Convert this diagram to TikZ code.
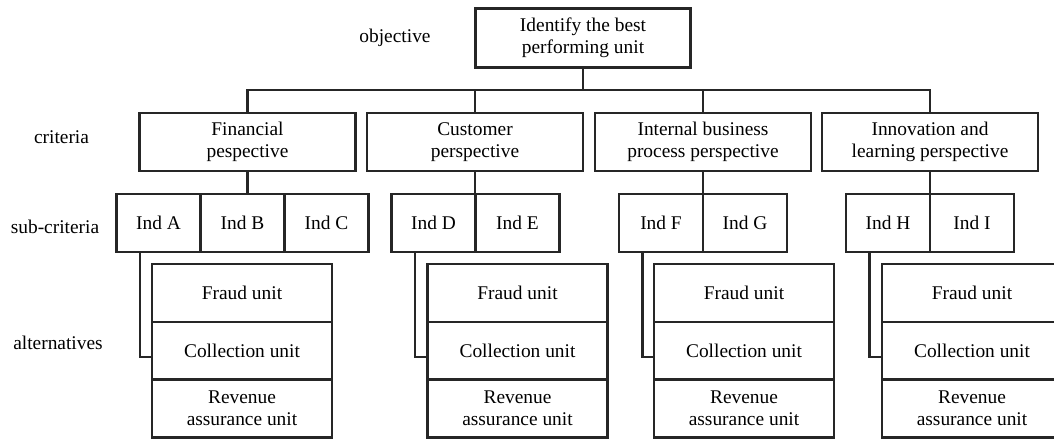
\documentclass[tikz,border=0pt]{standalone}
\usepackage{fontspec}
\setmainfont{Liberation Serif}
\usepackage{tikz}
\usetikzlibrary{positioning, calc}

\tikzset{
    box/.style={draw=black!85, line width=1.2pt, align=center, inner sep=0pt,
        font=\fontsize{9.7}{11.2}\selectfont},
    goalbox/.style={box, minimum width=107.5pt, minimum height=29.5pt},
    critbox/.style={box, minimum width=108pt, minimum height=29pt},
    indbox/.style={box, minimum width=42pt, minimum height=29pt},
    altbox/.style={box, minimum width=90pt, minimum height=29pt},
    levellabel/.style={font=\fontsize{9.7}{11.2}\selectfont, inner sep=0pt},
    link/.style={draw=black!85, line width=1.2pt}
}

\begin{document}
\begin{tikzpicture}[x=0.5pt,y=-0.5pt]
    \clip (0,0) rectangle (1054,439);
    \fill[white] (0,0) rectangle (1054,439);

    % livelli
    \node[levellabel] (lobj) at (395,38) {objective};
    \node[levellabel] (lcrit) at (61.5,137.5) {criteria};
    \node[levellabel] (lsub) at (55,226.5) {sub-criteria};
    \node[levellabel] (lalt) at (58,342.5) {alternatives};

    % obiettivo
    \node[goalbox] (goal) at (583,38) {Identify the best\\performing unit};
    \coordinate (bus) at (583,90);

    % criteri
    \node[critbox] (fin) at (247.5,142) {Financial\\pespective};
    \node[critbox] (cus) at (475,142) {Customer\\perspective};
    \node[critbox] (int) at (703,142) {Internal business\\process perspective};
    \node[critbox] (inn) at (930,142) {Innovation and\\learning perspective};

    % sotto-criteri
    \node[indbox] (indA) at (158.5,223) {Ind A};
    \node[indbox] (indB) at (242.5,223) {Ind B};
    \node[indbox] (indC) at (326.5,223) {Ind C};
    \node[indbox] (indD) at (433.5,223) {Ind D};
    \node[indbox] (indE) at (517.5,223) {Ind E};
    \node[indbox] (indF) at (661,223) {Ind F};
    \node[indbox] (indG) at (745,223) {Ind G};
    \node[indbox] (indH) at (888,223) {Ind H};
    \node[indbox] (indI) at (972,223) {Ind I};

    % alternative
    \node[altbox] (fraA) at (242,293) {Fraud unit};
    \node[altbox] (colA) at (242,351) {Collection unit};
    \node[altbox] (revA) at (242,408.5) {Revenue\\assurance unit};

    \node[altbox] (fraB) at (517.5,293) {Fraud unit};
    \node[altbox] (colB) at (517.5,351) {Collection unit};
    \node[altbox] (revB) at (517.5,408.5) {Revenue\\assurance unit};

    \node[altbox] (fraC) at (744,293) {Fraud unit};
    \node[altbox] (colC) at (744,351) {Collection unit};
    \node[altbox] (revC) at (744,408.5) {Revenue\\assurance unit};

    \node[altbox] (fraD) at (972,293) {Fraud unit};
    \node[altbox] (colD) at (972,351) {Collection unit};
    \node[altbox] (revD) at (972,408.5) {Revenue\\assurance unit};

    % collegamenti
    \draw[link] (goal.south) -- (bus);
    \draw[link] (fin.north) -- (fin.north |- bus) -- (inn.north |- bus) -- (inn.north);
    \draw[link] (cus.north) -- (cus.north |- bus);
    \draw[link] (int.north) -- (int.north |- bus);

    \draw[link] (fin.south) -- (fin.south |- indB.north);
    \draw[link] (cus.south) -- (cus.south |- indD.north);
    \draw[link] (int.south) -- (int.south |- indF.north);
    \draw[link] (inn.south) -- (inn.south |- indH.north);

    \draw[link] ([xshift=12.25pt]indA.south west) |- ([yshift=-3pt]colA.west);
    \draw[link] ([xshift=12.25pt]indD.south west) |- ([yshift=-3pt]colB.west);
    \draw[link] ([xshift=12.25pt]indF.south west) |- ([yshift=-3pt]colC.west);
    \draw[link] ([xshift=12.25pt]indH.south west) |- ([yshift=-3pt]colD.west);
\end{tikzpicture}
\end{document}
